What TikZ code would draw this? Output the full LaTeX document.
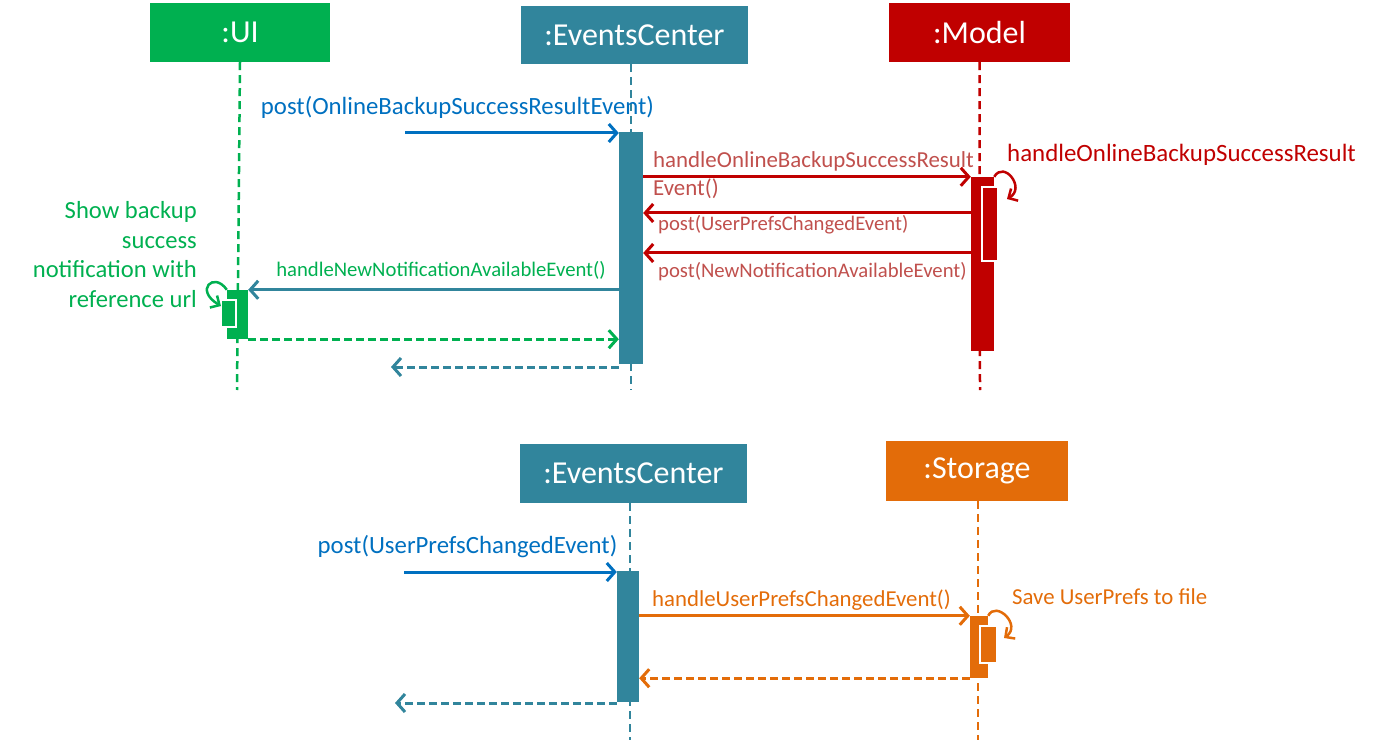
\documentclass[tikz,border=0pt]{standalone}
\usepackage{fontspec}
\setmainfont{Carlito}
\usetikzlibrary{arrows.meta,positioning}
\definecolor{uigreen}{HTML}{00B050}
\definecolor{evteal}{HTML}{31859C}
\definecolor{mdred}{HTML}{C00000}
\definecolor{txred}{HTML}{C0504D}
\definecolor{storange}{HTML}{E36C09}
\definecolor{postblue}{HTML}{0070C0}
\tikzset{%
actor/.style={fill=#1,text=white,inner sep=0pt,font=\fontsize{32}{38}\selectfont},
life/.style={draw=#1,line width=2.5pt,dash pattern=on 8pt off 5pt},
bar/.style={fill=#1,inner sep=0pt},
inbar/.style={fill=#1,draw=white,line width=1.5pt,inner sep=0pt},
msg/.style={draw=#1,line width=3pt,-{Straight Barb[length=8pt,width=18pt]}},
ret/.style={msg=#1,dash pattern=on 8pt off 4pt},
loop/.style={draw=#1,line width=2.5pt,-{Straight Barb[length=7pt,width=14pt]}},
lbl/.style 2 args={text=#1,inner sep=0pt,font=\fontsize{#2}{28}\selectfont}
}
\begin{document}
\begin{tikzpicture}[x=1pt,y=-1pt]
\useasboundingbox (0,0) rectangle (1375,743);
\node[actor=uigreen,minimum width=180pt,minimum height=59pt] (ui) at (240,32.5) {:UI};
\node[actor=evteal,minimum width=227pt,minimum height=58pt] (ev) at (634.5,35) {:EventsCenter};
\node[actor=mdred,minimum width=181pt,minimum height=59pt] (md) at (979.5,32.5) {:Model};
\node[actor=evteal,minimum width=227pt,minimum height=59pt] (evB) at (633.5,473.5) {:EventsCenter};
\node[actor=storange,minimum width=182pt,minimum height=60pt] (st) at (977,471) {:Storage};
\coordinate (uiEnd) at (237,390);
\coordinate (evEnd) at (631,390);
\coordinate (mdEnd) at (980,390);
\coordinate (evBEnd) at (630,740);
\coordinate (stEnd) at (978,740);
\draw[life=uigreen] (ui.south) -- (uiEnd);
\draw[life=evteal] (ev.south -| evEnd) -- (evEnd);
\draw[life=mdred] (md.south) -- (mdEnd);
\draw[life=evteal] (evB.south -| evBEnd) -- (evBEnd);
\draw[life=storange] (st.south -| stEnd) -- (stEnd);
\node[bar=evteal,minimum width=24pt,minimum height=232pt] (evBar) at (631,248) {};
\node[bar=uigreen,minimum width=21pt,minimum height=49pt] (uiBar) at (237.5,314.5) {};
\node[inbar=uigreen,minimum width=15pt,minimum height=27pt] (uiIn) at (228.5,313.5) {};
\node[bar=mdred,minimum width=23pt,minimum height=174pt] (mdBar) at (982.5,264) {};
\node[inbar=mdred,minimum width=16pt,minimum height=74pt] (mdIn) at (990,224) {};
\node[bar=evteal,minimum width=22pt,minimum height=131pt] (evBBar) at (628,636.5) {};
\node[bar=storange,minimum width=18pt,minimum height=62pt] (stBar) at (979,647) {};
\node[inbar=storange,minimum width=17pt,minimum height=37pt] (stIn) at (988.5,644.5) {};
\coordinate (start1) at (405,133);
\draw[msg=postblue] (start1) -- (start1 -| evBar.west);
\node[lbl={postblue}{24.8}] (post1) at (457.5,107) {post(OnlineBackupSuccessResultEvent)};
\draw[msg=mdred] (evBar.east |- mdBar.north) -- (mdBar.north west);
\node[lbl={txred}{22.9},align=left,anchor=west] (handle1) at (653,175) {handleOnlineBackupSuccessResult\\Event()};
\coordinate (mdLoop) at (1007,199);
\draw[loop=mdred] (mdBar.north east) .. controls (1004,160) and (1026,188) .. (mdLoop);
\node[lbl={mdred}{24.9},anchor=west] (handle2) at (1007,155) {handleOnlineBackupSuccessResult};
\coordinate (back1) at (971,213);
\coordinate (back2) at (971,253);
\draw[msg=mdred] (back1) -- (back1 -| evBar.east);
\draw[msg=mdred] (back2) -- (back2 -| evBar.east);
\node[lbl={txred}{20.7},anchor=west] (post2) at (658,225) {post(UserPrefsChangedEvent)};
\node[lbl={txred}{20.7},anchor=west] (post3) at (658,272) {post(NewNotificationAvailableEvent)};
\draw[msg=evteal] (evBar.west |- uiBar.north) -- (uiBar.north east);
\node[lbl={uigreen}{20.7}] (handle3) at (441,270) {handleNewNotificationAvailableEvent()};
\coordinate (uiLoop) at (221,306);
\draw[loop=uigreen] (uiBar.north west) .. controls (214,271) and (194,290) .. (uiLoop);
\node[lbl={uigreen}{24.6},align=right,anchor=east,font=\fontsize{24.6}{29.7}\selectfont] (note) at (197,254.5) {Show backup\\success\\notification with\\reference url};
\draw[ret=uigreen] (uiBar.south east) -- (uiBar.south east -| evBar.west);
\coordinate (ret1) at (391,367);
\draw[ret=evteal] (ret1 -| evBar.south west) -- (ret1);
\coordinate (start2) at (404,572);
\draw[msg=postblue] (start2) -- (start2 -| evBBar.west);
\node[lbl={postblue}{24.8}] (post4) at (467.5,547) {post(UserPrefsChangedEvent)};
\draw[msg=storange] (evBBar.east |- stBar.north) -- (stBar.north west);
\node[lbl={storange}{22.8},anchor=west] (handle4) at (652,600) {handleUserPrefsChangedEvent()};
\coordinate (stLoop) at (1004,638);
\draw[loop=storange] (stBar.north east) .. controls (996,600) and (1022,625) .. (stLoop);
\node[lbl={storange}{22.8},anchor=west] (save) at (1012,597) {Save UserPrefs to file};
\draw[ret=storange] (stBar.south west) -- (stBar.south west -| evBBar.east);
\coordinate (ret2) at (395,703);
\draw[ret=evteal] (ret2 -| evBBar.south west) -- (ret2);
\end{tikzpicture}
\end{document}
